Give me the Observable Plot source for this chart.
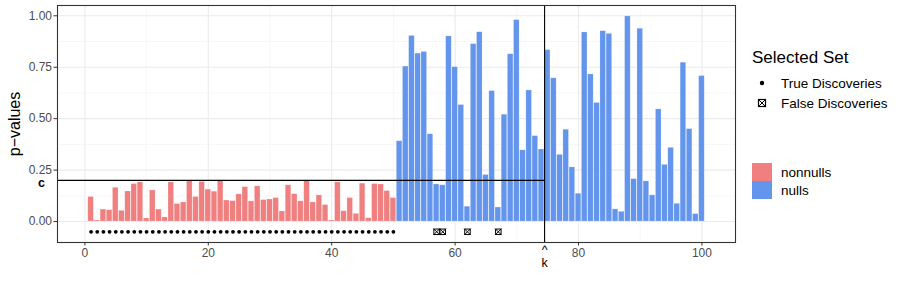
<!DOCTYPE html>
<html>
<head>
<meta charset="utf-8">
<script src="https://cdn.jsdelivr.net/npm/d3@7"></script>
<script src="https://cdn.jsdelivr.net/npm/@observablehq/plot@0.6"></script>
<style>
  html, body { margin: 0; padding: 0; background: #fff; }
  #wrap { position: relative; width: 900px; height: 286px; font-family: "Liberation Sans", Arial, Helvetica, sans-serif; }
  #legend { position: absolute; left: 752px; top: 48px; color: #000; }
  .ltitle { font-size: 17px; margin-bottom: 5px; }
  .lrow { display: flex; align-items: center; height: 20px; font-size: 13.5px; }
  .lkey { width: 20px; height: 18px; display: flex; align-items: center; justify-content: center; margin-right: 9px; }
</style>
</head>
<body>
<div id="wrap"></div>
<script>
// ---- data ----
const nonnullIdx = d3.range(1, 51);
const nonnullP = [0.119,0.005,0.058,0.055,0.164,0.052,0.146,0.182,0.19,0.015,
                  0.151,0.058,0.02,0.19,0.085,0.093,0.195,0.119,0.192,0.155,
                  0.145,0.198,0.102,0.099,0.132,0.167,0.098,0.171,0.104,0.107,
                  0.114,0.049,0.176,0.133,0.098,0.197,0.093,0.127,0.08,0.005,
                  0.19,0.05,0.114,0.037,0.184,0.016,0.182,0.18,0.148,0.114];
const nullIdx = d3.range(51, 101);
const nullP = [0.39,0.753,0.902,0.816,0.824,0.424,0.18,0.176,0.9,0.75,
               0.566,0.072,0.862,0.92,0.226,0.634,0.068,0.519,0.813,0.979,
               0.346,0.637,0.415,0.35,0.833,0.696,0.324,0.446,0.263,0.135,
               0.919,0.715,0.576,0.925,0.912,0.059,0.047,0.997,0.206,0.937,
               0.195,0.127,0.545,0.275,0.358,0.086,0.772,0.449,0.036,0.707];
const trueDiscoveries = d3.range(1, 51);
const falseDiscoveries = [57, 58, 62, 67];
const cThreshold = 0.2;
const kHat = 74.5;
const pointY = -0.05;
const xTicks = [0, 20, 40, 60, 80, 100];
const xMinor = [10, 30, 50, 70, 90];
const yTicks = [0, 0.25, 0.5, 0.75, 1];
const yMinor = [0.125, 0.375, 0.625, 0.875];

const colors = {nonnulls: "#F08080", nulls: "#6495ED"};

const bars = [
  ...nonnullIdx.map((x, i) => ({x, p: nonnullP[i], group: "nonnulls"})),
  ...nullIdx.map((x, i) => ({x, p: nullP[i], group: "nulls"}))
];

const xDom = [-4.44, 105.44];
const yDom = [-0.102, 1.05];

const chart = Plot.plot({
  width: 900, height: 286,
  marginLeft: 57, marginRight: 165, marginTop: 5, marginBottom: 44,
  style: {fontFamily: "Liberation Sans, Arial, Helvetica, sans-serif", fontSize: "12px", color: "#4d4d4d", background: "#fff"},
  x: {domain: xDom, label: null},
  y: {domain: yDom, label: null},
  color: {domain: ["nonnulls", "nulls"], range: [colors.nonnulls, colors.nulls]},
  marks: [
    Plot.ruleX(xMinor, {stroke: "#f2f2f2", strokeWidth: 0.6}),
    Plot.ruleY(yMinor, {stroke: "#f2f2f2", strokeWidth: 0.6}),
    Plot.ruleX(xTicks, {stroke: "#ebebeb", strokeWidth: 1.1}),
    Plot.ruleY(yTicks, {stroke: "#ebebeb", strokeWidth: 1.1}),
    Plot.rectY(bars, {x1: d => d.x - 0.45, x2: d => d.x + 0.45, y1: 0, y2: "p", fill: "group", stroke: "#fff", strokeOpacity: 0.3, strokeWidth: 0.6}),
    Plot.ruleY([cThreshold], {x1: xDom[0], x2: kHat, stroke: "#000", strokeWidth: 1.1}),
    Plot.ruleX([kHat], {stroke: "#000", strokeWidth: 1.1}),
    Plot.dot(trueDiscoveries, {x: d => d, y: pointY, r: 1.9, fill: "#000", stroke: null}),
    Plot.dot(falseDiscoveries, {x: d => d, y: pointY, symbol: "square", r: 3.1, fill: "none", stroke: "#000", strokeWidth: 1}),
    Plot.dot(falseDiscoveries, {x: d => d, y: pointY, symbol: "times", r: 3.1, stroke: "#000", strokeWidth: 1}),
    Plot.frame({stroke: "#333", strokeWidth: 1.1}),
    Plot.axisX({ticks: xTicks, tickSize: 3.5, tickPadding: 2, stroke: "#333", fill: "#4d4d4d", fontSize: 12}),
    Plot.axisY({ticks: yTicks, tickSize: 3.5, tickPadding: 2, tickFormat: d3.format(".2f"), stroke: "#333", fill: "#4d4d4d", fontSize: 12}),
    Plot.text(["c"], {x: xDom[0], y: cThreshold, dx: -16, dy: 3, fontSize: 12.5, fontWeight: "bold", fill: "#000", clip: false}),
    Plot.text(["^\nk"], {x: kHat, y: yDom[0], dy: 14, fontSize: 12.5, lineHeight: 1, fill: "#000"}),
    Plot.text(["p\u2212values"], {frameAnchor: "left", textAnchor: "middle", dx: -43, rotate: -90, fontSize: 16, fill: "#000"})
  ]
});

const wrap = document.getElementById("wrap");
wrap.appendChild(chart);

const legend = document.createElement("div");
legend.id = "legend";
legend.innerHTML = `
  <div class="ltitle">Selected Set</div>
  <div class="lrow"><div class="lkey"><svg width="10" height="10"><circle cx="5" cy="5" r="2.2" fill="#000"/></svg></div>True Discoveries</div>
  <div class="lrow"><div class="lkey"><svg width="10" height="10"><rect x="1.5" y="1.5" width="7" height="7" fill="none" stroke="#000" stroke-width="1.2"/><path d="M1.5 1.5L8.5 8.5M8.5 1.5L1.5 8.5" stroke="#000" stroke-width="1"/></svg></div>False Discoveries</div>
  <div style="height:50px"></div>
  <div class="lrow" style="height:18px"><div class="lkey" style="background:${colors.nonnulls}"></div>nonnulls</div>
  <div class="lrow" style="height:18px"><div class="lkey" style="background:${colors.nulls}"></div>nulls</div>
`;
wrap.appendChild(legend);
</script>
</body>
</html>
